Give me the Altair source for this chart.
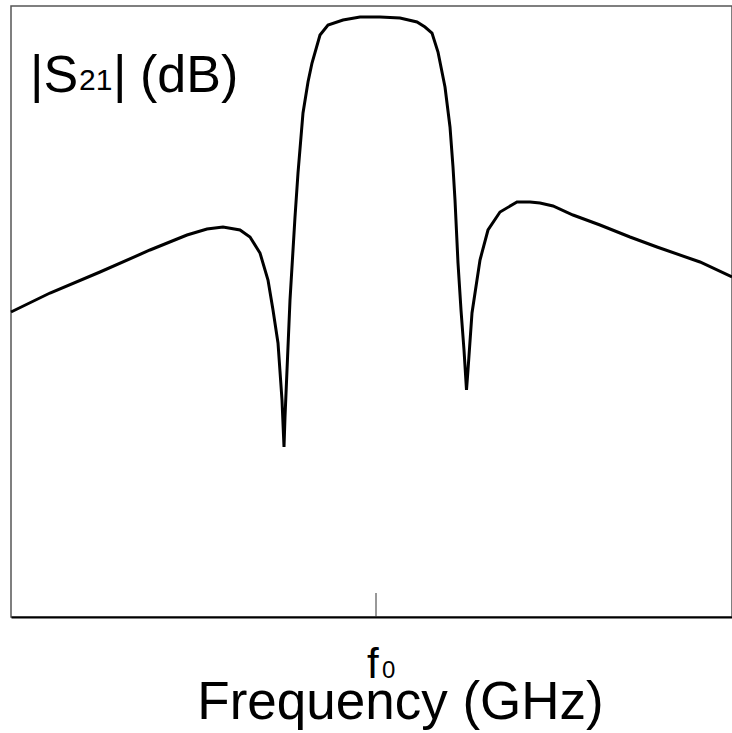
import altair as alt
import pandas as pd

# relative frequency (units around f0 = 0) and |S21| in dB
freq = [-3.65, -3.26, -2.76, -2.26, -1.89, -1.69, -1.53, -1.36, -1.26, -1.16,
        -1.08, -1.03, -0.98, -0.94, -0.92, -0.91, -0.86, -0.81, -0.78, -0.73,
        -0.68, -0.64, -0.56, -0.48, -0.33, -0.16, 0.04, 0.24, 0.41, 0.49,
        0.56, 0.62, 0.69, 0.74, 0.77, 0.79, 0.82, 0.85, 0.88, 0.905,
        0.92, 0.96, 1.04, 1.12, 1.24, 1.41, 1.54, 1.64, 1.77, 1.97,
        2.24, 2.54, 2.81, 3.24, 3.56]
s21 = [-30.6, -28.7, -26.6, -24.4, -22.9, -22.3, -22.1, -22.4, -23.1, -24.7,
       -27.4, -30.4, -33.7, -39.4, -44.1, -41.1, -29.4, -21.1, -16.7, -10.7,
       -7.6, -5.7, -2.9, -1.9, -1.4, -1.1, -1.1, -1.2, -1.6, -2.1,
       -2.7, -4.6, -8.1, -12.1, -16.1, -19.4, -25.7, -30.4, -34.4, -38.4,
       -36.4, -30.7, -25.4, -22.4, -20.6, -19.6, -19.6, -19.7, -20.0, -20.9,
       -21.9, -23.1, -24.1, -25.6, -27.1]
tick_values = [0.0]
tick_main = "f"
tick_sub = "0"
ytitle_parts = ["|S", "21", "|", "(dB)"]
xtitle = "Frequency (GHz)"

df = pd.DataFrame({"f": freq, "s21": s21, "i": list(range(len(freq)))})
tick_df = pd.DataFrame({"f": tick_values})

FONT = "Liberation Sans"
xscale = alt.Scale(domain=[-3.65, 3.56], nice=False, zero=False)
yscale = alt.Scale(domain=[-61.1, 0], nice=False, zero=False)

line = alt.Chart(df).mark_line(color="black", strokeWidth=3, interpolate="linear").encode(
    x=alt.X("f:Q", scale=xscale,
            axis=alt.Axis(values=tick_values, labels=False,
                          title=xtitle, grid=False, ticks=False,
                          domainColor="black", domainWidth=2,
                          titleFont=FONT, titleFontSize=53, titleFontWeight="normal",
                          titleColor="black", titleX=389, titleY=101,
                          titleAlign="center", titleBaseline="alphabetic")),
    y=alt.Y("s21:Q", scale=yscale, axis=None),
    order="i:Q",
)

tick = alt.Chart(tick_df).mark_rule(color="#333", strokeWidth=1).encode(
    x=alt.X("f:Q", scale=xscale),
    y=alt.value(587),
    y2=alt.value(611),
)

tick_f = alt.Chart(tick_df).mark_text(
    font=FONT, fontSize=42, color="black", align="left", baseline="alphabetic", dx=-9
).encode(x=alt.X("f:Q", scale=xscale), y=alt.value(672), text=alt.value(tick_main))

tick_0 = alt.Chart(tick_df).mark_text(
    font=FONT, fontSize=24, color="black", align="left", baseline="alphabetic", dx=6
).encode(x=alt.X("f:Q", scale=xscale), y=alt.value(672), text=alt.value(tick_sub))


def label(txt, x, y, size):
    return alt.Chart(tick_df).mark_text(
        font=FONT, fontSize=size, color="black", align="left", baseline="alphabetic"
    ).encode(x=alt.value(x), y=alt.value(y), text=alt.value(txt))


t1 = label(ytitle_parts[0], 19, 86, 52)
t2 = label(ytitle_parts[1], 68, 84, 30)
t3 = label(ytitle_parts[2], 102, 86, 52)
t4 = label(ytitle_parts[3], 129, 86, 52)

chart = alt.layer(line, tick, tick_f, tick_0, t1, t2, t3, t4).properties(
    width=721, height=611,
    autosize=alt.AutoSizeParams(type="none"),
    padding={"left": 11, "top": 6, "right": 0, "bottom": 116},
    background="white",
).configure_view(stroke="#555", strokeWidth=1.5)

chart.save("out.html", embed_options={"renderer": "svg", "actions": False})
